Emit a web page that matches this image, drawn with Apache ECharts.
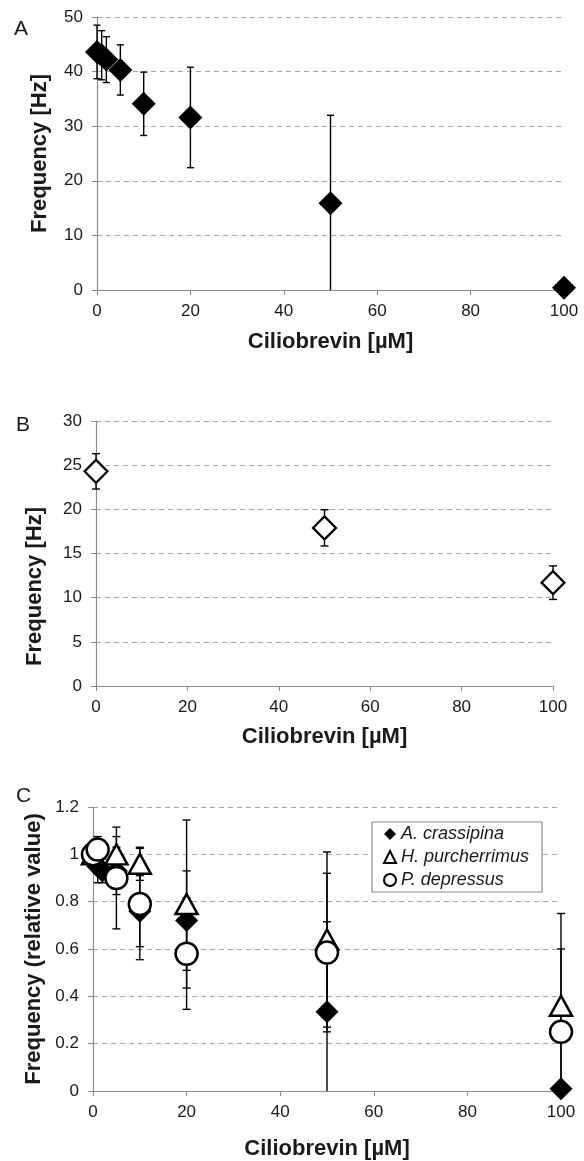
<!DOCTYPE html>
<html>
<head>
<meta charset="utf-8">
<script src="https://cdn.jsdelivr.net/npm/echarts@6/dist/echarts.min.js"></script>
<style>
html,body{margin:0;padding:0;background:#fff;}
#chart{width:584px;height:1161px;}
</style>
</head>
<body>
<div id="chart"></div>
<script>
// ---- Panel A: A. crassipina, frequency [Hz]
const concA = [0, 1, 2, 5, 10, 20, 50, 100];
const freqA = [43.6, 43.0, 42.2, 40.3, 34.1, 31.6, 15.9, 0.4];
const errA  = [4.9, 4.5, 4.2, 4.6, 5.8, 9.2, 16.1, 0];

// ---- Panel B: frequency [Hz]
const concB = [0, 50, 100];
const freqB = [24.3, 17.9, 11.7];
const errB  = [2.0, 2.05, 1.9];

// ---- Panel C: relative frequency
const speciesNames = ['A. crassipina', 'H. purcherrimus', 'P. depressus'];
const concCrass = [0, 1, 2, 5, 10, 20, 50, 100];
const relCrass  = [1.0, 0.95, 0.93, 0.93, 0.76, 0.72, 0.335, 0.01];
const errCrass  = [0, 0.07, 0.05, 0.1, 0.15, 0.21, 0.38, 0];
const concPurch = [0, 5, 10, 20, 50, 100];
const relPurch  = [1.0, 1.0, 0.96, 0.79, 0.64, 0.36];
const errPurch  = [0, 0.075, 0.07, 0.355, 0.37, 0.39];
const concDep = [0, 1, 5, 10, 20, 50, 100];
const relDep  = [1.0, 1.02, 0.90, 0.79, 0.58, 0.585, 0.25];
const errDep  = [0, 0.055, 0.215, 0.235, 0.235, 0.335, 0.35];

// ---- Tick settings
const xTicks = {min: 0, max: 100, interval: 20};
const yTicksA = {min: 0, max: 50, interval: 10};
const yTicksB = {min: 0, max: 30, interval: 5};
const yTicksC = {min: 0, max: 1.2, interval: 0.2};

const FONT = "'Liberation Sans', Arial, sans-serif";
const zip3 = (xs, ys, es) => xs.map((x, i) => [x, ys[i], es[i]]);
const zip2 = (xs, ys) => xs.map((x, i) => [x, ys[i]]);

function errRender(capHalf) {
  return function (params, api) {
    const x = api.value(0), y = api.value(1), e = api.value(2);
    if (!e) return;
    const lo = Math.max(0, y - e), hi = y + e;
    const pTop = api.coord([x, hi]);
    const pBot = api.coord([x, lo]);
    const st = {stroke: '#000', lineWidth: 1.4};
    const children = [
      {type: 'line', shape: {x1: pTop[0], y1: pTop[1], x2: pBot[0], y2: pBot[1]}, style: st},
      {type: 'line', shape: {x1: pTop[0] - capHalf, y1: pTop[1], x2: pTop[0] + capHalf, y2: pTop[1]}, style: st}
    ];
    if (y - e > 0) {
      children.push({type: 'line', shape: {x1: pBot[0] - capHalf, y1: pBot[1], x2: pBot[0] + capHalf, y2: pBot[1]}, style: st});
    }
    return {type: 'group', children: children};
  };
}

function xAxis(gridIndex, nameGap) {
  return {
    type: 'value', gridIndex: gridIndex, min: xTicks.min, max: xTicks.max, interval: xTicks.interval,
    name: 'Ciliobrevin [\u00b5M]', nameLocation: 'middle', nameGap: nameGap,
    nameTextStyle: {fontFamily: FONT, fontSize: 22, fontWeight: 'bold', color: '#1a1a1a'},
    axisLine: {show: true, onZero: false, lineStyle: {color: '#8c8c8c', width: 1.2}},
    axisTick: {show: true, inside: false, length: 5, lineStyle: {color: '#8c8c8c'}},
    axisLabel: {fontFamily: FONT, fontSize: 17, color: '#1a1a1a', margin: 13},
    splitLine: {show: false}
  };
}
function yAxis(gridIndex, ticks, name, nameGap, pad) {
  return {
    type: 'value', gridIndex: gridIndex, min: ticks.min, max: ticks.max, interval: ticks.interval,
    name: name, nameLocation: 'middle', nameGap: nameGap,
    nameTextStyle: {fontFamily: FONT, fontSize: 22, fontWeight: 'bold', color: '#1a1a1a', padding: pad || 0},
    axisLine: {show: true, lineStyle: {color: '#8c8c8c', width: 1.2}},
    axisTick: {show: true, inside: false, length: 5, lineStyle: {color: '#8c8c8c'}},
    axisLabel: {fontFamily: FONT, fontSize: 17, color: '#1a1a1a', margin: 14},
    splitLine: {show: true, lineStyle: {color: '#a6a6a6', type: [5, 4], width: 1.2}}
  };
}

const chart = echarts.init(document.getElementById('chart'), null, {renderer: 'canvas'});
chart.setOption({
  animation: false,
  backgroundColor: '#fff',
  grid: [
    {left: 97, top: 17, width: 467, height: 273},
    {left: 96, top: 421, width: 457, height: 265},
    {left: 93, top: 807, width: 468, height: 285}
  ],
  xAxis: [xAxis(0, 41), xAxis(1, 40), xAxis(2, 47)],
  yAxis: [
    yAxis(0, yTicksA, 'Frequency [Hz]', 46),
    yAxis(1, yTicksB, 'Frequency [Hz]', 50, [0, 66, 0, 0]),
    yAxis(2, yTicksC, 'Frequency (relative value)', 46)
  ],
  legend: {
    data: speciesNames,
    orient: 'vertical', left: 372, top: 822,
    backgroundColor: '#fff',
    borderColor: '#8c8c8c', borderWidth: 1.2,
    padding: [2, 13, 2, 11],
    itemWidth: 12, itemHeight: 12, itemGap: 3,
    textStyle: {fontFamily: FONT, fontSize: 18, fontStyle: 'italic', color: '#1a1a1a', lineHeight: 20}
  },
  graphic: [
    {type: 'text', left: 14, top: 19, style: {text: 'A', font: '21px ' + FONT, fill: '#1a1a1a'}},
    {type: 'text', left: 16, top: 415, style: {text: 'B', font: '21px ' + FONT, fill: '#1a1a1a'}},
    {type: 'text', left: 16, top: 786, style: {text: 'C', font: '21px ' + FONT, fill: '#1a1a1a'}}
  ],
  series: [
    // Panel A
    {type: 'custom', xAxisIndex: 0, yAxisIndex: 0, renderItem: errRender(3.5), data: zip3(concA, freqA, errA), z: 2, silent: true},
    {type: 'scatter', name: 'A', xAxisIndex: 0, yAxisIndex: 0, data: zip2(concA, freqA), symbol: 'diamond', symbolSize: 24,
      itemStyle: {color: '#000', opacity: 1}, z: 3},
    // Panel B
    {type: 'custom', xAxisIndex: 1, yAxisIndex: 1, renderItem: errRender(4), data: zip3(concB, freqB, errB), z: 2, silent: true},
    {type: 'scatter', name: 'B', xAxisIndex: 1, yAxisIndex: 1, data: zip2(concB, freqB), symbol: 'diamond', symbolSize: 23,
      itemStyle: {color: '#fff', borderColor: '#000', borderWidth: 2.2, opacity: 1}, z: 3},
    // Panel C error bars
    {type: 'custom', xAxisIndex: 2, yAxisIndex: 2, renderItem: errRender(4), data: zip3(concCrass, relCrass, errCrass), z: 2, silent: true},
    {type: 'custom', xAxisIndex: 2, yAxisIndex: 2, renderItem: errRender(4), data: zip3(concPurch, relPurch, errPurch), z: 2, silent: true},
    {type: 'custom', xAxisIndex: 2, yAxisIndex: 2, renderItem: errRender(4), data: zip3(concDep, relDep, errDep), z: 2, silent: true},
    // Panel C markers
    {type: 'scatter', name: speciesNames[0], xAxisIndex: 2, yAxisIndex: 2, data: zip2(concCrass, relCrass), symbol: 'diamond', symbolSize: 23,
      itemStyle: {color: '#000', borderColor: '#000', borderWidth: 0, opacity: 1}, z: 3},
    {type: 'scatter', name: speciesNames[1], xAxisIndex: 2, yAxisIndex: 2, data: zip2(concPurch, relPurch), symbol: 'triangle', symbolSize: [22, 20],
      itemStyle: {color: '#fff', borderColor: '#000', borderWidth: 2.5, opacity: 1}, z: 4},
    {type: 'scatter', name: speciesNames[2], xAxisIndex: 2, yAxisIndex: 2, data: zip2(concDep, relDep), symbol: 'circle', symbolSize: 22,
      itemStyle: {color: '#fff', borderColor: '#000', borderWidth: 2.5, opacity: 1}, z: 5}
  ]
});
</script>
</body>
</html>
